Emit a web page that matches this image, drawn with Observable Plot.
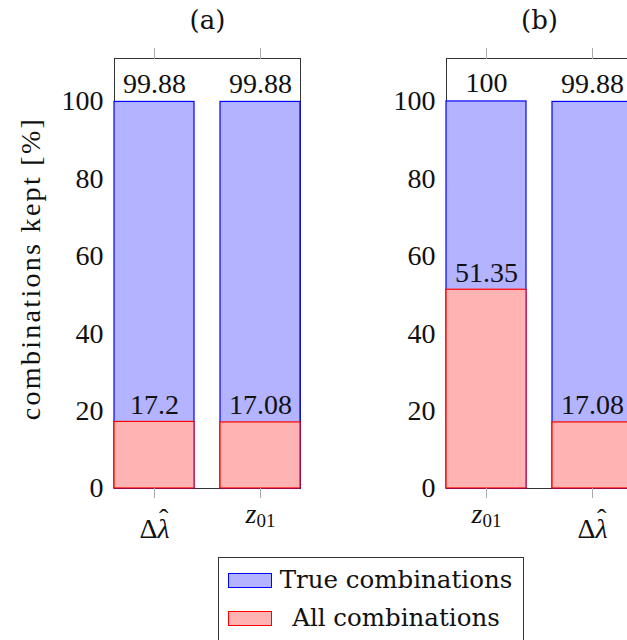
<!DOCTYPE html>
<html>
<head>
<meta charset="utf-8">
<script src="https://cdn.jsdelivr.net/npm/d3@7"></script>
<script src="https://cdn.jsdelivr.net/npm/@observablehq/plot@0.6"></script>
<style>
  html, body { margin: 0; padding: 0; background: white; }
  body { width: 627px; height: 640px; overflow: hidden; position: relative; }
  .panel { position: absolute; top: 0; }
  .legend {
    position: absolute; left: 218px; top: 557px; width: 306px; height: 100px;
    border: 1px solid #333; box-sizing: border-box;
    font-family: "DejaVu Serif", serif; font-size: 24.5px; color: #111;
  }
  .legend .row { position: absolute; left: 0; right: 0; height: 30px; }
  .legend .sw { position: absolute; left: 9px; width: 44px; height: 15px; box-sizing: border-box; }
  .legend .lab { position: absolute; left: 58px; right: 8px; text-align: center; line-height: 30px; white-space: nowrap; }
</style>
</head>
<body>
<div id="pa" class="panel" style="left:0px;width:320px"></div>
<div id="pb" class="panel" style="left:320px;width:332px"></div>
<div class="legend">
  <div class="row" style="top:7px"><div class="sw" style="top:8px;background:#b3b3ff;border:1.5px solid #0000ff"></div><div class="lab">True combinations</div></div>
  <div class="row" style="top:45px"><div class="sw" style="top:8px;background:#ffb3b3;border:1.5px solid #ff0000"></div><div class="lab">All combinations</div></div>
</div>
<script>
// Panel titles
const titles = ["(a)", "(b)"];

// Categories per panel (left to right)
const categoriesA = ["dlambda", "z01"];
const categoriesB = ["z01", "dlambda"];

// Percentage of true combinations kept
const trueA = [99.88, 99.88];
const trueB = [100, 99.88];

// Percentage of all combinations kept
const allA = [17.2, 17.08];
const allB = [51.35, 17.08];

// y ticks
const yTicks = [0, 20, 40, 60, 80, 100];
const yLabel = "combinations kept [%]";

// Rich markup for the category tick labels (math-style: italics, hat, subscript)
const catMarkup = {
  dlambda: '<tspan dy="15">Δ</tspan><tspan font-style="italic">λ</tspan><tspan dx="-10.5" dy="-10">ˆ</tspan>',
  z01: '<tspan font-style="italic">z</tspan><tspan font-size="19" dy="4">01</tspan>'
};

const blueFill = "#b3b3ff", blueStroke = "#0000ff";
const redFill = "#ffb3b3", redStroke = "#ff0000";
const serif = "'Liberation Serif', serif";

function panel({title, cats, trueVals, allVals, marginLeft, withYLabel}) {
  const rows = cats.map((c, i) => ({cat: c, t: trueVals[i], a: allVals[i]}));
  const frameW = 186;
  const marginRight = 20;
  const svg = Plot.plot({
    width: marginLeft + frameW + marginRight,
    height: 540,
    marginTop: 58,
    marginBottom: 52,
    marginLeft,
    marginRight,
    style: {fontFamily: serif, fontSize: "28px", background: "transparent", overflow: "visible", maxWidth: "none", color: "#111"},
    x: {domain: cats, paddingInner: 0.2453, paddingOuter: 0, axis: null},
    y: {domain: [0, 111.1], axis: null},
    marks: [
      Plot.frame({stroke: "#333"}),
      Plot.barY(rows, {x: "cat", y: "t", fill: blueFill, stroke: blueStroke, strokeWidth: 1.2}),
      Plot.barY(rows, {x: "cat", y: "a", fill: redFill, stroke: redStroke, strokeWidth: 1.2}),
      Plot.text(rows, {x: "cat", y: "t", text: d => String(d.t), dy: -18, fill: "#111", fontSize: 28}),
      Plot.text(rows, {x: "cat", y: "a", text: d => String(d.a), dy: -17, fill: "#111", fontSize: 28}),
      Plot.axisY({ticks: yTicks, tickSize: 0, tickPadding: 11, label: null, fill: "#111", fontSize: 28}),
      Plot.axisX({anchor: "top", tickSize: 11, tickFormat: () => "", stroke: "#aaa", label: null}),
      Plot.axisX({anchor: "bottom", tickSize: 10, tickFormat: () => "", stroke: "#aaa", label: null}),
      Plot.text(rows, {x: "cat", frameAnchor: "bottom", lineAnchor: "middle", dy: 26, text: "cat", fill: "#111", fontSize: 28, className: "cat-label"}),
      Plot.text([title], {frameAnchor: "top", lineAnchor: "middle", dy: -38, fontFamily: "DejaVu Serif, serif", fontSize: 26, fill: "#111"}),
      withYLabel ? Plot.text([yLabel], {frameAnchor: "left", textAnchor: "middle", lineAnchor: "middle", dx: -83, dy: -5, rotate: -90, fill: "#111", fontSize: 28, className: "y-title"}) : null
    ]
  });
  // Typeset the category labels with italics, hat and subscripts
  d3.select(svg).selectAll("g.cat-label text").each(function() {
    const key = this.textContent;
    if (catMarkup[key]) this.innerHTML = catMarkup[key];
  });
  // Slightly wider tracking for the axis title
  d3.select(svg).selectAll("g.y-title text").style("letter-spacing", "2.3px");
  return svg;
}

document.getElementById("pa").appendChild(panel({
  title: titles[0], cats: categoriesA, trueVals: trueA, allVals: allA, marginLeft: 114, withYLabel: true
}));
document.getElementById("pb").appendChild(panel({
  title: titles[1], cats: categoriesB, trueVals: trueB, allVals: allB, marginLeft: 126, withYLabel: false
}));
</script>
</body>
</html>
